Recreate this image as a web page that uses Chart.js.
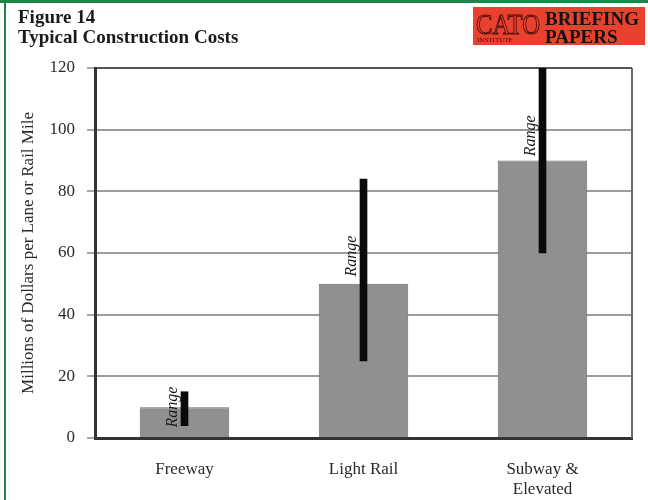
<!DOCTYPE html>
<html>
<head>
<meta charset="utf-8">
<script src="https://cdn.jsdelivr.net/npm/chart.js@4.4.1/dist/chart.umd.min.js"></script>
<style>
  html, body { margin: 0; padding: 0; background: #ffffff; }
  #wrap { width: 648px; height: 500px; }
</style>
</head>
<body>
<div id="wrap"><canvas id="c" width="648" height="500"></canvas></div>
<script>
// ---- data ----
const categories = ['Freeway', 'Light Rail', ['Subway &', 'Elevated']];
const costValues = [10, 50, 90];          // typical cost (bar height)
const rangeLow = [4, 25, 60];             // bottom of range line
const rangeHigh = [15, 84, 120];          // top of range line
const rangeLabelAt = [10, 59, 98];        // value at which the "Range" label is centred
const titleLines = ['Figure 14', 'Typical Construction Costs'];
const yAxisTitle = 'Millions of Dollars per Lane or Rail Mile';
const rangeText = 'Range';
const yMin = 0, yMax = 120, yStep = 20;

const SERIF = "'Liberation Serif', 'Times New Roman', serif";

const framePlugin = {
  id: 'frame',
  beforeDraw(chart) {
    const ctx = chart.ctx;
    ctx.save();
    ctx.fillStyle = '#ffffff';
    ctx.fillRect(0, 0, chart.width, chart.height);
    // green page border (top & left)
    ctx.fillStyle = '#1d8548';
    ctx.fillRect(0, 0, chart.width, 3);
    ctx.fillRect(4, 0, 2, chart.height);
    // CATO logo
    const lx = 473, ly = 7, lw = 172, lh = 38;
    ctx.fillStyle = '#e8412f';
    ctx.fillRect(lx, ly, lw, lh);
    ctx.textBaseline = 'alphabetic';
    ctx.textAlign = 'left';
    ctx.strokeStyle = '#4a0e08';
    ctx.lineWidth = 1;
    ctx.font = "30px " + SERIF;
    ctx.strokeText('CATO', lx + 3, ly + 27, 64);
    ctx.fillStyle = '#4a0e08';
    ctx.font = "7px " + SERIF;
    ctx.fillText('INSTITUTE', lx + 4, ly + 35, 62);
    ctx.fillStyle = '#111111';
    ctx.font = "bold 19px " + SERIF;
    ctx.fillText('BRIEFING', lx + 72, ly + 18, 100);
    ctx.fillText('PAPERS', lx + 72, ly + 36, 82);
    ctx.restore();
  },
  beforeDatasetsDraw(chart) {
    const ctx = chart.ctx, a = chart.chartArea;
    ctx.save();
    ctx.strokeStyle = '#6a6a6a';
    ctx.lineWidth = 2;
    ctx.beginPath();
    ctx.moveTo(a.right, a.top);
    ctx.lineTo(a.right, a.bottom);
    ctx.stroke();
    ctx.restore();
  }
};

const rangeLabelPlugin = {
  id: 'rangeLabels',
  afterDatasetsDraw(chart) {
    const ctx = chart.ctx;
    const meta = chart.getDatasetMeta(1);
    const ys = chart.scales.y;
    ctx.save();
    ctx.fillStyle = '#1a1a1a';
    ctx.font = "italic 16px " + SERIF;
    ctx.textAlign = 'center';
    ctx.textBaseline = 'middle';
    meta.data.forEach((el, i) => {
      const x = el.x - 12;
      const y = ys.getPixelForValue(rangeLabelAt[i]);
      ctx.save();
      ctx.translate(x, y);
      ctx.rotate(-Math.PI / 2);
      ctx.fillText(rangeText, 0, 0);
      ctx.restore();
    });
    ctx.restore();
  }
};

new Chart(document.getElementById('c'), {
  type: 'bar',
  data: {
    labels: categories,
    datasets: [
      {
        label: 'Typical cost',
        data: costValues,
        backgroundColor: '#8e9092',
        borderColor: '#6b6d6f',
        borderWidth: 1,
        grouped: false,
        categoryPercentage: 1,
        barPercentage: 0.5,
        order: 2
      },
      {
        label: 'Range',
        data: rangeLow.map((lo, i) => [lo, rangeHigh[i]]),
        backgroundColor: '#0a0a0a',
        borderWidth: 0,
        grouped: false,
        barThickness: 7,
        order: 1
      }
    ]
  },
  options: {
    responsive: false,
    animation: false,
    layout: { padding: { left: 18, right: 16, top: 0, bottom: 0 } },
    plugins: {
      legend: { display: false },
      tooltip: { enabled: false },
      title: {
        display: true,
        text: titleLines,
        align: 'start',
        color: '#1a1a1a',
        font: { family: SERIF, size: 19, weight: 'bold', lineHeight: '20px' },
        padding: { top: 8, bottom: 20 }
      }
    },
    scales: {
      x: {
        grid: { display: false, drawTicks: false },
        border: { display: true, color: '#333333', width: 3 },
        ticks: {
          color: '#2a2a2a',
          padding: 22,
          maxRotation: 0,
          font: { family: SERIF, size: 17, lineHeight: '20px' }
        },
        afterFit(scale) { scale.height = 62; }
      },
      y: {
        min: yMin,
        max: yMax,
        ticks: {
          stepSize: yStep,
          color: '#2a2a2a',
          padding: 12,
          font: { family: SERIF, size: 17 }
        },
        grid: {
          color: (c) => (c.tick && c.tick.value === yMax) ? '#555555' : '#9c9c9c',
          lineWidth: 2,
          tickLength: 8,
          tickColor: '#8a8a8a',
          tickWidth: 1.5
        },
        border: { display: true, color: '#333333', width: 3 },
        title: {
          display: true,
          text: yAxisTitle,
          color: '#2a2a2a',
          padding: 0,
          font: { family: SERIF, size: 17 }
        },
        afterFit(scale) { scale.width = 77; }
      }
    }
  },
  plugins: [framePlugin, rangeLabelPlugin]
});
</script>
</body>
</html>
